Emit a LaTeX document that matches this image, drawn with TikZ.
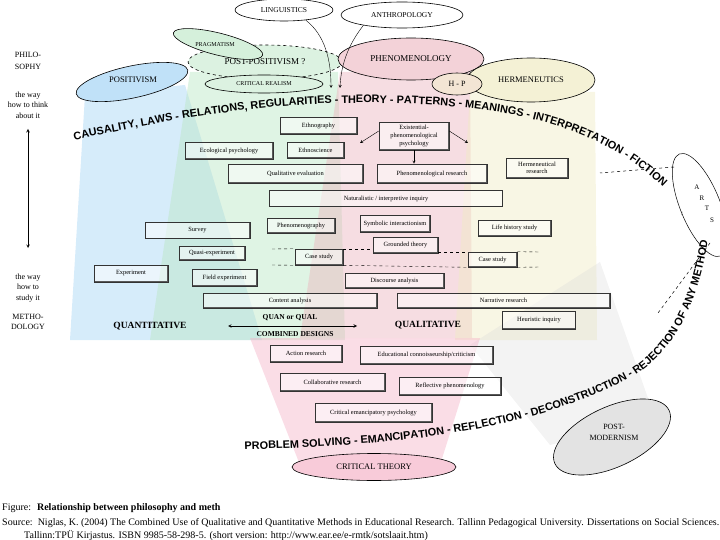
\documentclass[tikz,border=0pt]{standalone}
\usepackage{fontspec}
\setmainfont{Liberation Serif}
\setsansfont{Liberation Sans}
\usetikzlibrary{shapes.geometric,decorations.text}
\definecolor{posblue}{RGB}{165,212,245}
\definecolor{ppgreen}{RGB}{185,230,195}
\definecolor{phenpink}{RGB}{235,180,190}
\definecolor{hermyellow}{RGB}{240,235,195}
\definecolor{pmgrey}{RGB}{215,215,215}
\definecolor{ctpink}{RGB}{245,180,200}
\begin{document}
\begin{tikzpicture}[x=1pt,y=-1pt,>=stealth,
    fan/.style={fill opacity=.45},
    phil/.style={ellipse,draw,line width=.6pt,inner sep=0pt,font=\fontsize{8.5}{10}\selectfont},
    meth/.style={draw=black!80,line width=.6pt,fill=white,fill opacity=.5,text opacity=1,
      inner sep=1pt,align=center,font=\fontsize{6.4}{8}\selectfont,
      path picture={\draw[black!65,line width=1.6pt] (path picture bounding box.south west)
        -- (path picture bounding box.south east) -- (path picture bounding box.north east);}},
    side/.style={align=center,font=\fontsize{8}{10.5}\selectfont},
    head/.style={font=\bfseries\fontsize{9.5}{11}\selectfont},
    figcap/.style={anchor=base west,inner sep=0pt,font=\fontsize{10}{12}\selectfont}]
\useasboundingbox (0,0) rectangle (720,540);
% fans from the philosophies down to the methods
\fill[posblue,fan] (85,95) -- (185,85) -- (262,340) -- (70,340) -- cycle;
\fill[ppgreen,fan] (190,72) -- (338,72) -- (345,340) -- (150,340) -- cycle;
\fill[phenpink,fan] (340,72) -- (470,72) -- (472,338) -- (300,338) -- cycle;
\fill[hermyellow,fan] (470,92) -- (595,92) -- (597,340) -- (455,340) -- cycle;
\fill[pmgrey,fill opacity=.3] (550,445) -- (655,418) -- (600,262) -- (470,345) -- cycle;
\fill[ctpink,fan] (250,338) -- (480,338) -- (440,465) -- (300,465) -- cycle;

% philosophies
\node[phil,fill=white,minimum width=98pt,minimum height=22pt,font=\fontsize{7.5}{9}\selectfont] (ling) at (284,10) {LINGUISTICS};
\node[phil,fill=white,minimum width=122pt,minimum height=26pt,font=\fontsize{7.5}{9}\selectfont] (anthro) at (402,15) {ANTHROPOLOGY};
\node[phil,dashed,fill=ppgreen!50,minimum width=154pt,minimum height=34pt,font=\fontsize{9}{10}\selectfont] (postpos) at (265,62) {POST-POSITIVISM ?};
\draw[line width=.6pt,fill=ppgreen!60,rotate around={-14:(218,44)}] (218,44) ellipse [x radius=46pt,y radius=11pt];
\node[font=\fontsize{6}{7}\selectfont] (pragm) at (215,45) {PRAGMATISM};
\node[phil,fill=ppgreen!50,minimum width=118pt,minimum height=18pt,font=\fontsize{6}{7}\selectfont] (critreal) at (264,84) {CRITICAL REALISM};
\draw[line width=.6pt,fill=posblue!70,rotate around={12:(132,82)}] (132,82) ellipse [x radius=57pt,y radius=16pt];
\node[font=\fontsize{8.5}{10}\selectfont] (posit) at (133,80) {POSITIVISM};
\node[phil,fill=phenpink!60,minimum width=146pt,minimum height=42pt,font=\fontsize{9}{10}\selectfont] (phen) at (411,59) {PHENOMENOLOGY};
\node[phil,fill=hermyellow!70,minimum width=128pt,minimum height=44pt] (herm) at (531,80) {HERMENEUTICS};
\node[phil,fill=hermyellow!70!phenpink!70,minimum width=50pt,minimum height=22pt,font=\fontsize{8}{9}\selectfont] (hp) at (457,84) {H - P};
\node[phil,fill=ctpink!70,minimum width=164pt,minimum height=27pt] (crit) at (374,467) {CRITICAL THEORY};
\draw[line width=.6pt,fill=pmgrey!70,rotate around={25:(612,437)}] (612,437) ellipse [x radius=63pt,y radius=30pt];
\node[align=center,font=\fontsize{8}{11}\selectfont] (postmod) at (614,432) {POST-\\MODERNISM};
\draw[line width=.5pt,rotate around={-68:(700,205)}] (700,205) ellipse [x radius=55pt,y radius=20pt];
\node[font=\fontsize{7}{8}\selectfont] (arta) at (697,187) {A};
\node[font=\fontsize{7}{8}\selectfont] (artr) at (702,198) {R};
\node[font=\fontsize{7}{8}\selectfont] (artt) at (707,208) {T};
\node[font=\fontsize{7}{8}\selectfont] (arts) at (712,220) {S};
\node[font=\fontsize{7}{8}\selectfont] (artdots) at (682,214) {:};

% arrows into the list of methods
\coordinate (lingend) at (331,88);
\coordinate (anthroend) at (340,88);
\draw[->] (ling.-25) .. controls (325,35) and (331,60) .. (lingend);
\draw[->] (anthro.-165) .. controls (348,45) and (341,65) .. (anthroend);

% left side
\node[side,font=\fontsize{8}{12.5}\selectfont] (philo) at (28,61) {PHILO-\\SOPHY};
\node[side] (think) at (28,105) {the way\\how to think\\about it};
\node[side] (study) at (28,288) {the way\\how to\\study it};
\node[side,font=\fontsize{8}{10}\selectfont] (metho) at (28,322) {METHO-\\DOLOGY};
\coordinate (upend) at (28,129);
\coordinate (downend) at (28,248);
\draw[<->,line width=.6pt] (upend) -- (downend);

% methods
\node[meth,minimum width=77pt,minimum height=17pt] (ethno) at (318.5,125.5) {Ethnography};
\node[meth,minimum width=88pt,minimum height=17pt] (ecopsy) at (229,150.5) {Ecological psychology};
\node[meth,minimum width=57pt,minimum height=16pt] (ethnosci) at (315.5,150) {Ethnoscience};
\node[meth,minimum width=70pt,minimum height=28pt,font=\fontsize{6.4}{7.6}\selectfont] (exist) at (414,136) {Existential-\\phenomenological\\psychology};
\node[meth,minimum width=135pt,minimum height=19pt] (qualeval) at (295.5,173.5) {Qualitative evaluation};
\node[meth,minimum width=110pt,minimum height=19pt] (phenres) at (432,173.5) {Phenomenological research};
\node[meth,minimum width=62pt,minimum height=20pt,font=\fontsize{6.4}{7.6}\selectfont] (hermres) at (537,168) {Hermeneutical\\research};
\node[meth,minimum width=233pt,minimum height=16pt] (natinq) at (386,198.5) {Naturalistic / interpretive inquiry};
\node[meth,minimum width=105pt,minimum height=16pt] (survey) at (197.5,230.5) {Survey};
\node[meth,minimum width=68pt,minimum height=15pt] (phgraphy) at (301,225.5) {Phenomenography};
\node[meth,minimum width=70pt,minimum height=17pt] (symint) at (395,223.5) {Symbolic interactionism};
\node[meth,minimum width=73pt,minimum height=16pt] (lifehist) at (514.5,228) {Life history study};
\node[meth,minimum width=66pt,minimum height=14pt] (quasi) at (212,253) {Quasi-experiment};
\node[meth,minimum width=65pt,minimum height=16pt] (grounded) at (405.5,245) {Grounded theory};
\node[meth,minimum width=48pt,minimum height=16pt] (casel) at (319,257) {Case study};
\node[meth,minimum width=49pt,minimum height=15pt] (caser) at (492.5,259.5) {Case study};
\node[meth,minimum width=74pt,minimum height=17pt] (exper) at (131,273.5) {Experiment};
\node[meth,minimum width=65pt,minimum height=17pt] (fieldexp) at (224.5,277.5) {Field experiment};
\node[meth,minimum width=99pt,minimum height=15pt] (discourse) at (394.5,280.5) {Discourse analysis};
\node[meth,minimum width=174pt,minimum height=15pt] (content) at (290,300.5) {Content analysis};
\node[meth,minimum width=213pt,minimum height=15pt] (narrative) at (503.5,300.5) {Narrative research};
\node[meth,minimum width=73pt,minimum height=18pt] (heuristic) at (539,320) {Heuristic inquiry};
\node[meth,minimum width=72pt,minimum height=17pt] (action) at (306,353.5) {Action research};
\node[meth,minimum width=133pt,minimum height=18pt] (educonn) at (426.5,355) {Educational connoisseurship/criticism};
\node[meth,minimum width=105pt,minimum height=18pt] (collab) at (332.5,382) {Collaborative research};
\node[meth,minimum width=102pt,minimum height=18pt] (reflphen) at (450,386) {Reflective phenomenology};
\node[meth,minimum width=117pt,minimum height=19pt] (critemanc) at (373.5,412.5) {Critical emancipatory psychology};

% arrows from existential-phenomenological psychology
\coordinate (exl) at (360,143);
\coordinate (exr) at (468,143);
\draw[->] (exist.172) -- (exl);
\draw[->] (exist.8) -- (exr);
\draw[->] (exist.south) -- (exist.south |- phenres.north);

% dashed band round the case studies
\coordinate (dashtl) at (272,249);
\coordinate (dashtr) at (540,252);
\coordinate (dashbl) at (272,265);
\coordinate (dashbr) at (540,267);
\draw[dashed] (dashtl) -- (casel.north west);
\draw[dashed] (casel.north east) -- (grounded.west |- casel.north east);
\draw[dashed] (grounded.east |- caser.north west) -- (caser.north west);
\draw[dashed] (caser.north east) -- (dashtr);
\draw[dashed] (dashbl) -- (casel.south west);
\draw[dashed] (casel.south east) -- (caser.south west);
\draw[dashed] (caser.south east) -- (dashbr);

% design labels
\node[head] (quant) at (150,326) {QUANTITATIVE};
\node[head] (qual) at (428,325) {QUALITATIVE};
\node[font=\bfseries\fontsize{7.5}{9}\selectfont] (quanqual) at (290,318) {QUAN or QUAL};
\node[font=\bfseries\fontsize{7.5}{9}\selectfont] (combined) at (295,334) {COMBINED DESIGNS};
\coordinate (qql) at (228,326);
\coordinate (qqr) at (357,326);
\draw[<->,line width=.6pt] (qql) -- (qqr);

% ARTS dashed lines
\coordinate (artsa) at (674,167);
\coordinate (fica) at (600,173);
\coordinate (artsb) at (710,243);
\coordinate (methb) at (658,313);
\draw[dashed,line width=.5pt] (artsa) -- (fica);
\draw[dashed,line width=.5pt] (artsb) -- (methb);

% curved keywords
\path[decorate,decoration={text along path,text align=center,
    text={|\sffamily\bfseries\fontsize{10.9}{13}\selectfont|CAUSALITY, LAWS - RELATIONS, REGULARITIES - THEORY - PATTERNS - MEANINGS - INTERPRETATION - FICTION}}]
  (70,141) .. controls (170,119) and (260,104) .. (350,103) .. controls (470,102) and (590,113) .. (666,190);
\path[decorate,decoration={text along path,text align=center,
    text={|\sffamily\bfseries\fontsize{10.9}{13}\selectfont|PROBLEM SOLVING - EMANCIPATION - REFLECTION - DECONSTRUCTION - REJECTION OF ANY METHOD}}]
  (236,450) .. controls (380,446) and (520,436) .. (630,378) .. controls (680,350) and (702,290) .. (709,232);

% caption
\node[figcap] (fig) at (2,510) {Figure:\hspace{6pt}\textbf{Relationship between philosophy and meth}};
\node[figcap] (src) at (2,525) {Source:\hspace{5pt}Niglas, K. (2004) The Combined Use of Qualitative and Quantitative Methods in Educational Research. Tallinn Pedagogical University. Dissertations on Social Sciences.};
\node[figcap] (src2) at (24,538) {Tallinn:TPÜ Kirjastus. ISBN 9985-58-298-5. (short version: http://www.ear.ee/e-rmtk/sotslaait.htm)};
\end{tikzpicture}
\end{document}
